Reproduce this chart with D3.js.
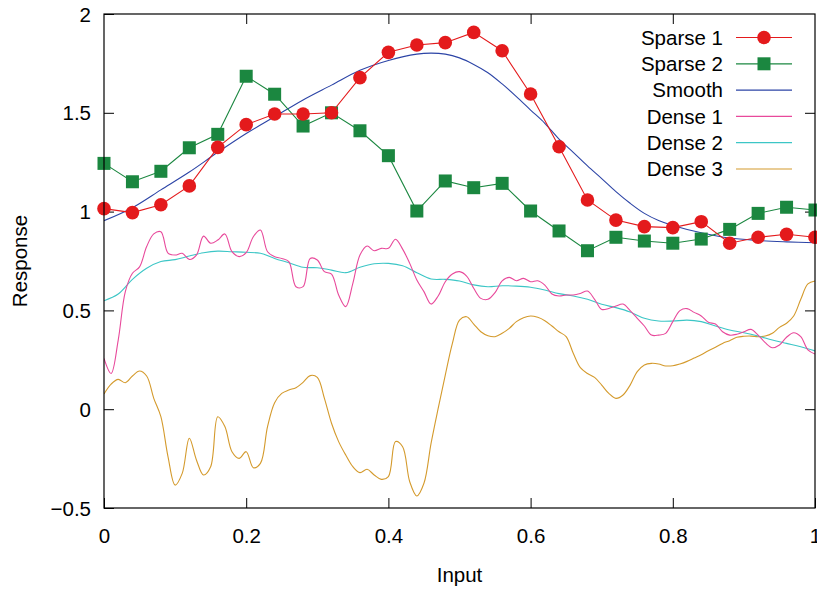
<!DOCTYPE html>
<html>
<head>
<meta charset="utf-8">
<script src="https://cdn.jsdelivr.net/npm/d3@7"></script>
<style>
  body { margin: 0; background: #fff; }
  text { font-family: "Liberation Sans", Arial, sans-serif; font-size: 20.5px; fill: #000; }
</style>
</head>
<body>
<div id="chart"></div>
<script>
////////////////////////////////////////////////////////////
//////////////////////// Data //////////////////////////////
////////////////////////////////////////////////////////////

var sparseX = [0, 0.04, 0.08, 0.12, 0.16, 0.2, 0.24, 0.28, 0.32, 0.36, 0.4, 0.44, 0.48,
  0.52, 0.56, 0.6, 0.64, 0.68, 0.72, 0.76, 0.8, 0.84, 0.88, 0.92, 0.96, 1];

var sparse1 = [1.015, 0.995, 1.035, 1.13, 1.325, 1.44, 1.494, 1.494, 1.5, 1.678, 1.806, 1.843, 1.855,
  1.907, 1.814, 1.595, 1.328, 1.059, 0.957, 0.924, 0.919, 0.949, 0.84, 0.87, 0.885, 0.87];

var sparse2 = [1.244, 1.151, 1.204, 1.323, 1.391, 1.685, 1.594, 1.433, 1.5, 1.409, 1.283, 1.003, 1.155,
  1.121, 1.143, 1.003, 0.902, 0.802, 0.87, 0.851, 0.84, 0.861, 0.91, 0.991, 1.022, 1.008];

var smoothX = [0, 0.04, 0.08, 0.12, 0.16, 0.2, 0.24, 0.28, 0.32, 0.36, 0.4, 0.44, 0.46, 0.48, 0.5,
  0.52, 0.54, 0.56, 0.58, 0.6, 0.62, 0.64, 0.66, 0.68, 0.7, 0.72, 0.74, 0.76, 0.78, 0.8,
  0.84, 0.88, 0.92, 0.96, 1];
var smooth = [0.954, 1.02, 1.11, 1.2, 1.3, 1.395, 1.48, 1.565, 1.64, 1.715, 1.765, 1.797, 1.802, 1.797, 1.778,
  1.745, 1.703, 1.646, 1.582, 1.514, 1.447, 1.367, 1.3, 1.231, 1.167, 1.101, 1.042, 0.991, 0.955, 0.93,
  0.893, 0.866, 0.854, 0.847, 0.842];

// dense series sampled every 0.01 (dense1, dense3) and every 0.02 (dense2)
var dense1 = [0.257, 0.181, 0.35, 0.595, 0.688, 0.72, 0.823, 0.887, 0.898, 0.79,
  0.78, 0.789, 0.758, 0.78, 0.876, 0.84, 0.856, 0.887, 0.797, 0.772,
  0.792, 0.873, 0.907, 0.797, 0.772, 0.763, 0.747, 0.62, 0.62, 0.763,
  0.755, 0.696, 0.684, 0.578, 0.519, 0.637, 0.78, 0.826, 0.802, 0.814,
  0.814, 0.86, 0.81, 0.738, 0.654, 0.595, 0.532, 0.573, 0.645, 0.684,
  0.696, 0.674, 0.612, 0.561, 0.556, 0.59, 0.649, 0.667, 0.65, 0.662,
  0.645, 0.65, 0.628, 0.583, 0.573, 0.578, 0.578, 0.586, 0.598, 0.556,
  0.505, 0.51, 0.522, 0.532, 0.499, 0.46, 0.421, 0.375, 0.375, 0.384,
  0.443, 0.499, 0.509, 0.49, 0.472, 0.44, 0.431, 0.392, 0.375, 0.379,
  0.392, 0.404, 0.375, 0.337, 0.311, 0.325, 0.364, 0.387, 0.367, 0.3,
  0.279];

var dense2 = [0.549, 0.583, 0.657, 0.713, 0.747, 0.757, 0.775, 0.792, 0.8, 0.797,
  0.794, 0.789, 0.763, 0.741, 0.718, 0.716, 0.704, 0.691, 0.718, 0.736,
  0.738, 0.726, 0.691, 0.659, 0.657, 0.649, 0.629, 0.62, 0.625, 0.623,
  0.617, 0.603, 0.585, 0.573, 0.556, 0.531, 0.514, 0.492, 0.46, 0.446,
  0.446, 0.451, 0.443, 0.421, 0.401, 0.387, 0.37, 0.35, 0.333, 0.316,
  0.295];

var dense3 = [0.077, 0.127, 0.151, 0.134, 0.168, 0.193, 0.168, 0.055, -0.038, -0.24,
  -0.384, -0.325, -0.147, -0.257, -0.333, -0.291, -0.038, -0.088, -0.215, -0.249,
  -0.215, -0.296, -0.274, -0.088, 0.033, 0.08, 0.097, 0.109, 0.136, 0.17,
  0.161, 0.055, -0.071, -0.164, -0.232, -0.291, -0.321, -0.304, -0.333, -0.355,
  -0.341, -0.164, -0.19, -0.367, -0.439, -0.375, -0.173, 0.004, 0.173, 0.333,
  0.451, 0.468, 0.431, 0.392, 0.372, 0.367, 0.384, 0.409, 0.443, 0.463,
  0.472, 0.465, 0.448, 0.421, 0.392, 0.367, 0.283, 0.21, 0.181, 0.161,
  0.122, 0.08, 0.055, 0.072, 0.122, 0.19, 0.224, 0.232, 0.229, 0.219,
  0.22, 0.229, 0.242, 0.259, 0.276, 0.296, 0.313, 0.333, 0.347, 0.364,
  0.369, 0.37, 0.367, 0.37, 0.384, 0.414, 0.435, 0.472, 0.556, 0.634,
  0.649];

var xTicks = [0, 0.2, 0.4, 0.6, 0.8, 1];
var yTicks = [-0.5, 0, 0.5, 1, 1.5, 2];

var names = ["Sparse 1", "Sparse 2", "Smooth", "Dense 1", "Dense 2", "Dense 3"],
colors = ["#e41a1c", "#1b8740", "#2c44a6", "#e8499b", "#3cc6c6", "#d49a2c"];

////////////////////////////////////////////////////////////
//////////////////////// Set-Up ////////////////////////////
////////////////////////////////////////////////////////////
var W = 817, H = 590,
margin = {left: 104, top: 14, right: 2, bottom: 82},
width = W - margin.left - margin.right,
height = H - margin.top - margin.bottom;

var x = d3.scaleLinear().domain([0, 1]).range([0, width]);
var y = d3.scaleLinear().domain([-0.5, 2]).range([height, 0]);

var svg = d3.select("#chart").append("svg")
  .attr("width", W)
  .attr("height", H);

var g = svg.append("g")
  .attr("transform", "translate(" + margin.left + "," + margin.top + ")");

g.append("clipPath").attr("id", "clip")
  .append("rect").attr("width", width).attr("height", height);

////////////////////////////////////////////////////////////
//////////////////////// Axes //////////////////////////////
////////////////////////////////////////////////////////////
var fmt = function(d) { return d3.format("")(d); };

// inward ticks on all four sides
function styleAxis(sel) {
  sel.select(".domain").remove();
  sel.selectAll(".tick line").attr("stroke", "#000").attr("stroke-width", 1);
}

g.append("g").attr("transform", "translate(0," + height + ")")
  .call(d3.axisBottom(x).tickValues(xTicks).tickSizeInner(-10).tickSizeOuter(0).tickPadding(20).tickFormat(fmt))
  .call(styleAxis)
  .selectAll("text").attr("dy", "0.71em");

g.append("g")
  .call(d3.axisTop(x).tickValues(xTicks.slice(1, -1)).tickSizeInner(-10).tickSizeOuter(0).tickFormat(""))
  .call(styleAxis);

g.append("g")
  .call(d3.axisLeft(y).tickValues(yTicks).tickSizeInner(-10).tickSizeOuter(0).tickPadding(13).tickFormat(fmt))
  .call(styleAxis)
  .selectAll("text").attr("dy", "0.35em");

g.append("g").attr("transform", "translate(" + width + ",0)")
  .call(d3.axisRight(y).tickValues(yTicks.slice(1, -1)).tickSizeInner(-10).tickSizeOuter(0).tickFormat(""))
  .call(styleAxis);

g.selectAll(".tick text").style("fill", "#000");
svg.selectAll("g[font-size]").attr("font-size", null).attr("font-family", null);

////////////////////////////////////////////////////////////
//////////////////////// Lines /////////////////////////////
////////////////////////////////////////////////////////////
var plot = g.append("g").attr("clip-path", "url(#clip)");

function series(xs, ys) { return ys.map(function(v, i) { return [xs[i], v]; }); }
var grid100 = d3.range(dense1.length).map(function(i) { return i / 100; });
var grid50 = d3.range(dense2.length).map(function(i) { return i / 50; });

var curveLine = d3.line().x(function(d) { return x(d[0]); }).y(function(d) { return y(d[1]); })
  .curve(d3.curveCatmullRom.alpha(0.5));
var straight = d3.line().x(function(d) { return x(d[0]); }).y(function(d) { return y(d[1]); });

plot.append("path").datum(series(grid100, dense3)).attr("d", curveLine)
  .attr("fill", "none").attr("stroke", colors[5]).attr("stroke-width", 1.1);
plot.append("path").datum(series(grid50, dense2)).attr("d", curveLine)
  .attr("fill", "none").attr("stroke", colors[4]).attr("stroke-width", 1.1);
plot.append("path").datum(series(grid100, dense1)).attr("d", curveLine)
  .attr("fill", "none").attr("stroke", colors[3]).attr("stroke-width", 1.1);
plot.append("path").datum(series(smoothX, smooth)).attr("d", curveLine)
  .attr("fill", "none").attr("stroke", colors[2]).attr("stroke-width", 1.1);

var s2 = series(sparseX, sparse2), s1 = series(sparseX, sparse1);
g.append("path").datum(s2).attr("d", straight)
  .attr("fill", "none").attr("stroke", colors[1]).attr("stroke-width", 1.1);
g.selectAll("rect.sq").data(s2).enter().append("rect").attr("class", "sq")
  .attr("x", function(d) { return x(d[0]) - 6.5; })
  .attr("y", function(d) { return y(d[1]) - 6.5; })
  .attr("width", 13).attr("height", 13)
  .attr("fill", colors[1]);

g.append("path").datum(s1).attr("d", straight)
  .attr("fill", "none").attr("stroke", colors[0]).attr("stroke-width", 1.1);
g.selectAll("circle.dot").data(s1).enter().append("circle").attr("class", "dot")
  .attr("cx", function(d) { return x(d[0]); })
  .attr("cy", function(d) { return y(d[1]); })
  .attr("r", 6.8)
  .attr("fill", colors[0]);

// frame
g.append("rect").attr("width", width).attr("height", height)
  .attr("fill", "none").attr("stroke", "#000").attr("stroke-width", 1.2);

////////////////////////////////////////////////////////////
//////////////////////// Legend ////////////////////////////
////////////////////////////////////////////////////////////
var legend = svg.selectAll("g.legend").data(names).enter().append("g")
  .attr("class", "legend")
  .attr("transform", function(d, i) { return "translate(0," + (37.5 + i * 26.3) + ")"; });

legend.append("text").attr("x", 723).attr("dy", "0.35em").attr("text-anchor", "end")
  .text(function(d) { return d; });
legend.append("line").attr("x1", 736).attr("x2", 792)
  .attr("stroke", function(d, i) { return colors[i]; }).attr("stroke-width", 1.2);
legend.filter(function(d, i) { return i === 0; }).append("circle")
  .attr("cx", 764).attr("r", 6.8).attr("fill", colors[0]);
legend.filter(function(d, i) { return i === 1; }).append("rect")
  .attr("x", 757.5).attr("y", -6.5).attr("width", 13).attr("height", 13).attr("fill", colors[1]);

////////////////////////////////////////////////////////////
//////////////////////// Titles ////////////////////////////
////////////////////////////////////////////////////////////
svg.append("text").attr("x", margin.left + width / 2).attr("y", 581.5)
  .attr("text-anchor", "middle").text("Input");
svg.append("text").attr("transform", "translate(26.5," + (margin.top + height / 2) + ") rotate(-90)")
  .attr("text-anchor", "middle").text("Response");
</script>
</body>
</html>
